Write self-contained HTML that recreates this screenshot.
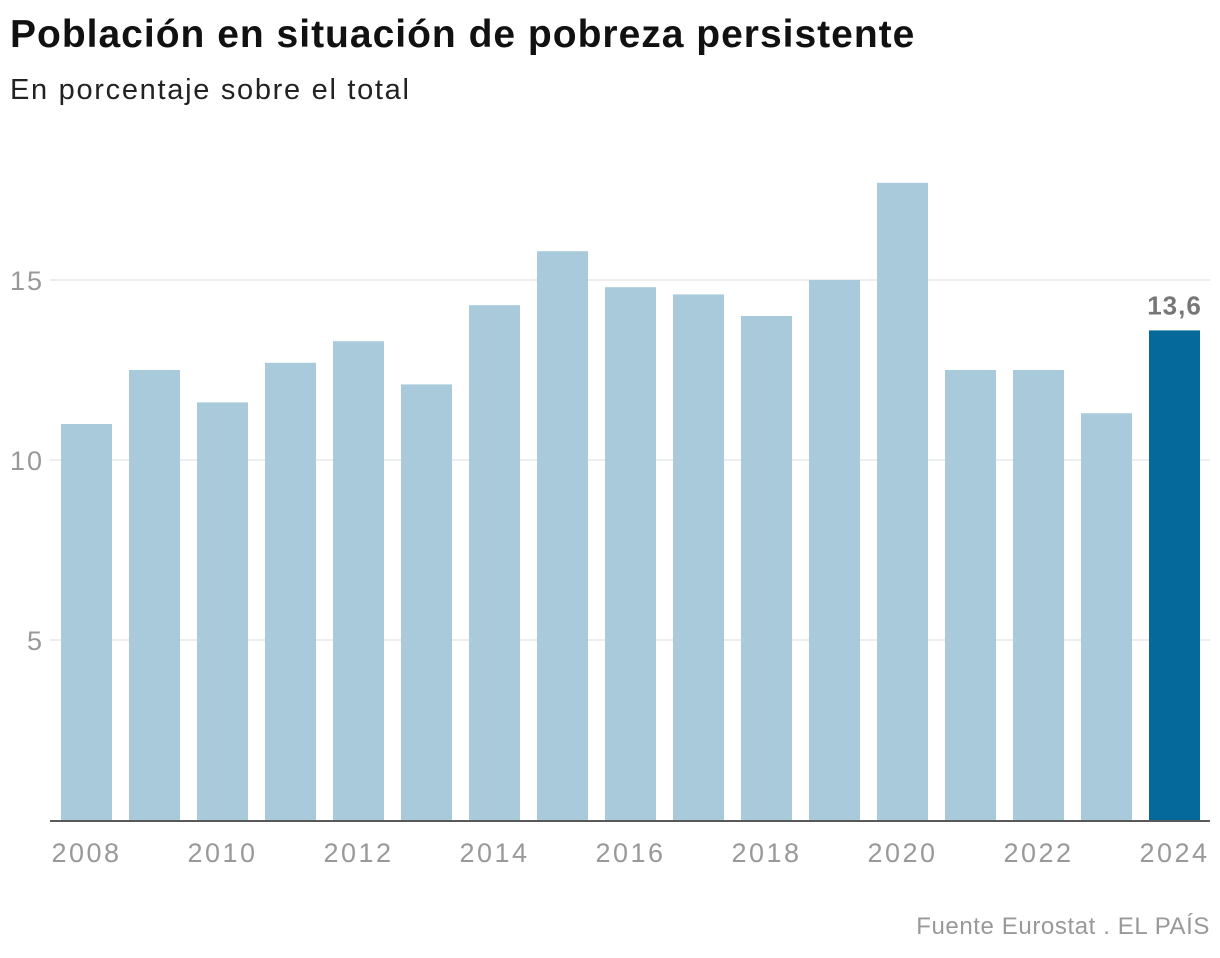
<!DOCTYPE html>
<html><head><meta charset="utf-8"><style>
body{margin:0;background:#fff;font-family:"Liberation Sans",sans-serif;}
#wrap{position:relative;width:1220px;height:958px;overflow:hidden}
h1{position:absolute;left:10px;top:13px;margin:0;font-size:39px;font-weight:bold;color:#111;letter-spacing:1.0px;white-space:nowrap}
h2{position:absolute;left:10px;top:74px;margin:0;font-size:29px;font-weight:normal;color:#222;letter-spacing:1.7px;white-space:nowrap}
#src{position:absolute;right:10px;top:913px;font-size:24px;color:#999;letter-spacing:0.6px;white-space:nowrap}
</style></head><body>
<div id="wrap">
<h1>Población en situación de pobreza persistente</h1>
<h2>En porcentaje sobre el total</h2>
<svg id="chart" width="1220" height="958" style="position:absolute;left:0;top:0"></svg>
<div id="src">Fuente Eurostat . EL PAÍS</div>
</div>
<script>
const years=[2008,2009,2010,2011,2012,2013,2014,2015,2016,2017,2018,2019,2020,2021,2022,2023,2024];
const values=[11.0,12.5,11.6,12.7,13.3,12.1,14.3,15.8,14.8,14.6,14.0,15.0,17.7,12.5,12.5,11.3,13.6];
const yTicks=[5,10,15];
const xLabels=[2008,2010,2012,2014,2016,2018,2020,2022,2024];
const NS="http://www.w3.org/2000/svg";
const svg=document.getElementById('chart');
const y0=820,pxPerUnit=36,x0=61,step=68,bw=51;
const yS=v=>y0-v*pxPerUnit;
const xS=i=>x0+i*step;
function mk(t,a){const e=document.createElementNS(NS,t);for(const k in a)e.setAttribute(k,a[k]);svg.appendChild(e);return e;}
yTicks.forEach(t=>{
 const l=mk('line',{x1:50,x2:1210,y1:yS(t),y2:yS(t),stroke:'#ddd','stroke-width':1});
 
 
 const tx=mk('text',{x:44,y:yS(t)+10,'text-anchor':'end','font-size':27,fill:'#999','letter-spacing':2,'font-family':'Liberation Sans, sans-serif'});
 tx.textContent=t;
 
 
});
values.forEach((v,i)=>{
 const last=i===values.length-1;
 const r=mk('rect',{x:xS(i),y:yS(v),width:bw,height:v*pxPerUnit,fill:last?'#05699b':'#a8cadb'});
 
 
});
const li=values.length-1;
const vl=mk('text',{x:xS(li)+bw/2,y:yS(values[li])-16,'text-anchor':'middle','font-size':26,'font-weight':'bold',fill:'#777','letter-spacing':1,'font-family':'Liberation Sans, sans-serif'});
vl.textContent=values[li].toFixed(1).replace('.',',');


const ax=mk('line',{x1:50,x2:1210,y1:y0+1,y2:y0+1,stroke:'#222','stroke-width':1.5});


xLabels.forEach(yr=>{
 const i=years.indexOf(yr);
 const t=mk('text',{x:xS(i)+bw/2,y:862,'text-anchor':'middle','font-size':27,fill:'#999','letter-spacing':2.5,'font-family':'Liberation Sans, sans-serif'});
 t.textContent=yr;
 
 
});
</script>
</body></html>
